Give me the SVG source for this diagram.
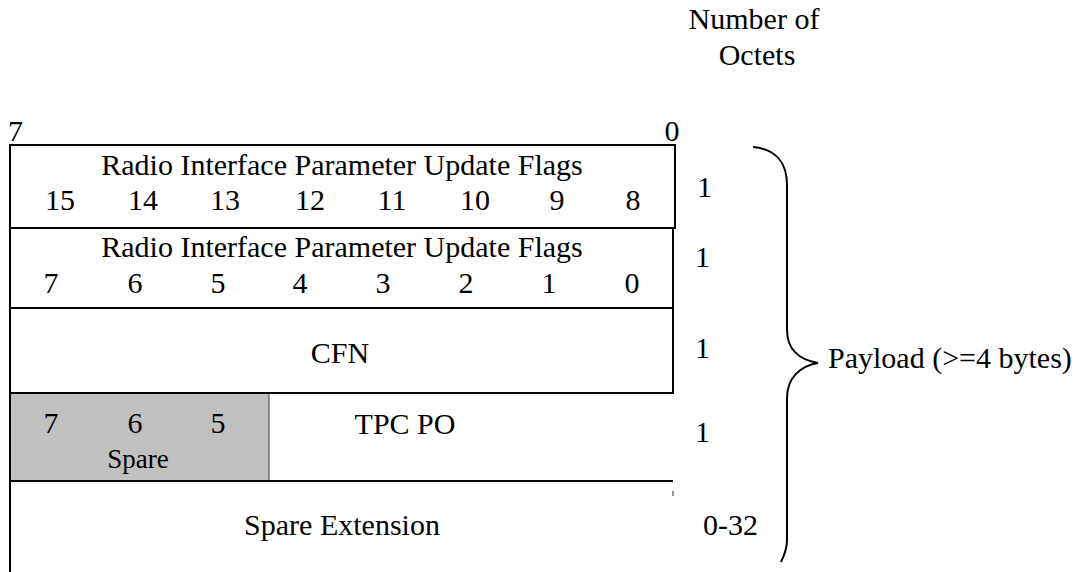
<svg xmlns="http://www.w3.org/2000/svg" width="1074" height="572" viewBox="0 0 1074 572">
<style>
text{font-family:"Liberation Serif","Times New Roman",serif;font-size:30px;fill:#000}
.m{text-anchor:middle}
.b{fill:none;stroke:#000;stroke-width:2}
.t{fill:none;stroke:#555;stroke-width:1.2}
</style>
<rect width="1074" height="572" fill="#fff"/>
<g id="header">
<text class="m" x="754" y="29">Number of</text>
<text class="m" x="757" y="65">Octets</text>
<text x="8" y="141">7</text>
<text class="m" x="672" y="141">0</text>
</g>
<g id="row1">
<rect class="b" x="10" y="145" width="665" height="83"/>
<text class="m" x="342" y="175">Radio Interface Parameter Update Flags</text>
<text class="m" x="60" y="210">15</text>
<text class="m" x="143" y="210">14</text>
<text class="m" x="225" y="210">13</text>
<text class="m" x="310" y="210">12</text>
<text class="m" x="392" y="210">11</text>
<text class="m" x="475" y="210">10</text>
<text class="m" x="557" y="210">9</text>
<text class="m" x="633" y="210">8</text>
<text x="697" y="197">1</text>
</g>
<g id="row2">
<path class="b" d="M10,228 V308 H673 V228"/>
<text class="m" x="342" y="257">Radio Interface Parameter Update Flags</text>
<text class="m" x="51" y="293">7</text>
<text class="m" x="135" y="293">6</text>
<text class="m" x="218" y="293">5</text>
<text class="m" x="300" y="293">4</text>
<text class="m" x="383" y="293">3</text>
<text class="m" x="466" y="293">2</text>
<text class="m" x="549" y="293">1</text>
<text class="m" x="632" y="293">0</text>
<text x="695" y="267">1</text>
</g>
<g id="row3">
<path class="b" d="M10,308 V393 H673 V308"/>
<text class="m" x="340" y="363">CFN</text>
<text x="695" y="358">1</text>
</g>
<g id="row4">
<rect x="11" y="394" width="258" height="87" fill="#c0c0c0"/>
<line class="t" x1="269" y1="394" x2="269" y2="481"/>
<path class="b" d="M10,393 V481 H673"/>
<line class="t" x1="673" y1="491" x2="673" y2="496"/>
<text class="m" x="51" y="433">7</text>
<text class="m" x="135" y="433">6</text>
<text class="m" x="218" y="433">5</text>
<text class="m" x="138" y="468" style="font-size:27px">Spare</text>
<text class="m" x="405" y="434">TPC PO</text>
<text x="695" y="442">1</text>
</g>
<g id="row5">
<line class="b" x1="10" y1="481" x2="10" y2="572"/>
<text class="m" x="342" y="535">Spare Extension</text>
<text x="703" y="535">0-32</text>
</g>
<g id="connectors">
<path class="b" d="M753,147 C775,149 787,162 787,185 L787,330 C787,350 800,360 818,363 C800,366 787,378 787,398 L787,540 C787,550 784,556 781,562"/>
</g>
<g id="payload">
<text x="828" y="368">Payload (&gt;=4 bytes)</text>
</g>
</svg>
